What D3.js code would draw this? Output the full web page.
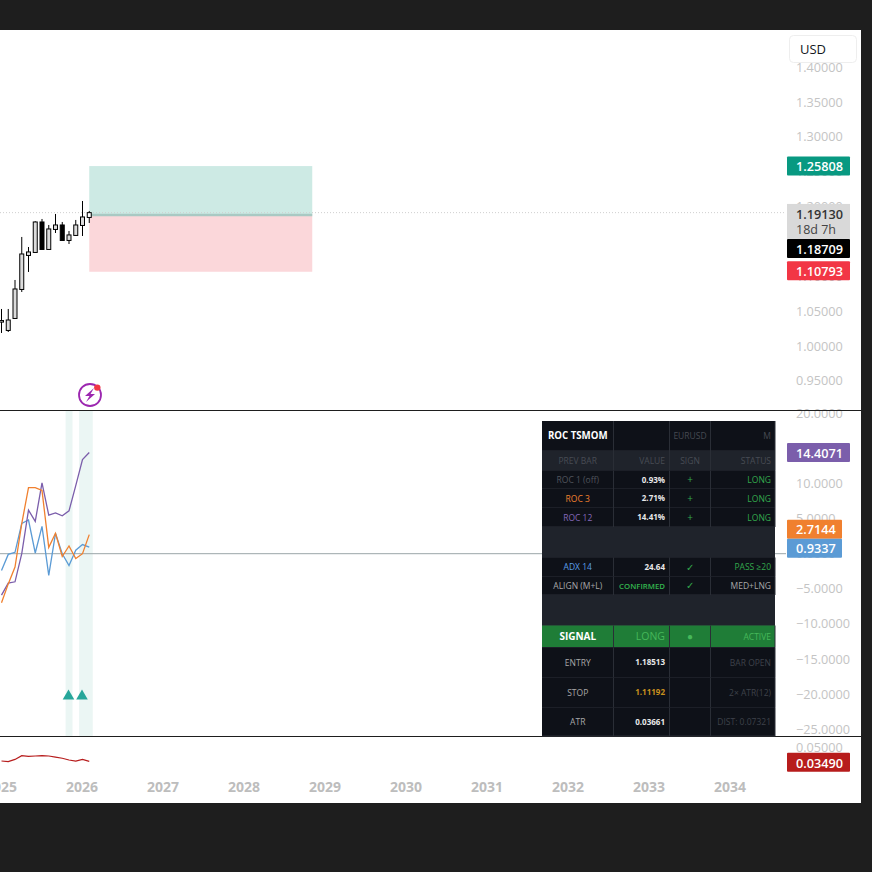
<!DOCTYPE html>
<html>
<head>
<meta charset="utf-8">
<script src="https://cdn.jsdelivr.net/npm/d3@7"></script>
<style>
html, body { margin: 0; padding: 0; background: #1e1e1e; }
svg { display: block; }
text { font-family: "Open Sans", sans-serif; }
</style>
</head>
<body>
<svg width="872" height="872"></svg>
<script>
// months as decimal years, Jan 2025 to Feb 2026
var months = [2025, 2025+1/12, 2025+2/12, 2025+3/12, 2025+4/12, 2025+5/12, 2025+6/12, 2025+7/12,
    2025+8/12, 2025+9/12, 2025+10/12, 2025+11/12, 2026, 2026+1/12];
var opens  = [1.0350, 1.0230, 1.0402, 1.0818, 1.1306, 1.1349, 1.1779, 1.1392, 1.1679, 1.1736, 1.1521, 1.1593, 1.1736, 1.1851];
var highs  = [1.0531, 1.0531, 1.0947, 1.1564, 1.1420, 1.1790, 1.1822, 1.1736, 1.1894, 1.1779, 1.1650, 1.1808, 1.2080, 1.1937];
var lows   = [1.0187, 1.0201, 1.0402, 1.0775, 1.1062, 1.1340, 1.1392, 1.1392, 1.1621, 1.1521, 1.1463, 1.1578, 1.1578, 1.1765];
var closes = [1.0365, 1.0373, 1.0818, 1.1320, 1.1349, 1.1779, 1.1392, 1.1679, 1.1736, 1.1521, 1.1593, 1.1736, 1.1851, 1.1913];

var roc1  = [-2.4, -0.1, 0.2, 4.3, 4.8, 0.1, 3.9, -3.1, 2.9, 0.0, -1.7, 0.5, 1.3, 0.9337];
var roc3  = [-7.0, -4.3, -1.9, 4.3, 9.4, 9.4, 9.0, 0.9, 2.9, -0.4, 1.1, -0.7, 0.0, 2.7144];
var roc12 = [-5.9, -4.2, -4.0, 0.0, 6.2, 4.6, 10.1, 5.5, 5.8, 5.4, 6.1, 9.7, 13.4, 14.4071];
var atr   = [0.0352, 0.0345, 0.0369, 0.0408, 0.0402, 0.0405, 0.0408, 0.0405, 0.0394, 0.0381, 0.0363, 0.0352, 0.0370, 0.0349];

var signalMonths = [2025+10/12, 2026, 2026+1/12];
var triangleMonths = [2025+10/12, 2026];

var priceTicks = [0.95, 1.00, 1.05, 1.10, 1.15, 1.20, 1.25, 1.30, 1.35, 1.40];
var rocTicks = [20, 15, 10, 5, 0, -5, -10, -15, -20, -25];
var yearTicks = [2025, 2026, 2027, 2028, 2029, 2030, 2031, 2032, 2033, 2034];

var entry = 1.18709, target = 1.25808, stop = 1.10793, last = 1.1913;

// table rows: label, value, sign, status
var tableRows = [
    ['ROC TSMOM', '', 'EURUSD', 'M'],
    ['PREV BAR', 'VALUE', 'SIGN', 'STATUS'],
    ['ROC 1 (off)', '0.93%', '+', 'LONG'],
    ['ROC 3', '2.71%', '+', 'LONG'],
    ['ROC 12', '14.41%', '+', 'LONG'],
    ['', '', '', ''],
    ['ADX 14', '24.64', '✓', 'PASS ≥20'],
    ['ALIGN (M+L)', 'CONFIRMED', '✓', 'MED+LNG'],
    ['', '', '', ''],
    ['SIGNAL', 'LONG', '●', 'ACTIVE'],
    ['ENTRY', '1.18513', '', 'BAR OPEN'],
    ['STOP', '1.11192', '', '2× ATR(12)'],
    ['ATR', '0.03661', '', 'DIST: 0.07321']
];
var rowEdges = [421, 451, 470.5, 489, 508, 527, 557.5, 576.5, 595, 625.5, 647.5, 677.5, 707.5, 736];
var colEdges = [542, 613.5, 669.5, 710.5, 775];
var rowFills = ['#0e1118', '#1f232b', '#0e1118', '#0e1118', '#0e1118', '#1f232b', '#0e1118', '#0e1118', '#1f232b', '#1f7d37', '#0e1118', '#0e1118', '#0e1118'];
var rowColors = [
    ['#ffffff', '', '#464a52', '#464a52'],
    ['#484c54', '#484c54', '#484c54', '#484c54'],
    ['#50545c', '#e8e8e8', '#33a84c', '#33a84c'],
    ['#f0802f', '#e8e8e8', '#33a84c', '#33a84c'],
    ['#8468b8', '#e8e8e8', '#33a84c', '#33a84c'],
    ['', '', '', ''],
    ['#5b9fe6', '#e8e8e8', '#33a84c', '#33a84c'],
    ['#a8a8a8', '#33b54e', '#33a84c', '#a8a8a8'],
    ['', '', '', ''],
    ['#ffffff', '#46b85a', '#46b85a', '#46b85a'],
    ['#a8a8a8', '#e8e8e8', '', '#3e424a'],
    ['#a8a8a8', '#c8901e', '', '#3e424a'],
    ['#a8a8a8', '#e8e8e8', '', '#3e424a']
];

var svg = d3.select('svg');

var x = d3.scaleLinear().domain([2025, 2035]).range([1.5, 811.5]);
var yPrice = d3.scaleLinear().domain([1.0, 1.35]).range([346, 102]);
var yRoc = d3.scaleLinear().domain([20, -25]).range([413.3, 729.2]);
var yAtr = d3.scaleLinear().domain([0.05, 0.0349]).range([747, 761.3]);

// white chart area
svg.append('rect').attr('x', 0).attr('y', 30).attr('width', 861).attr('height', 773).attr('fill', '#ffffff');

var defs = svg.append('defs');
defs.append('clipPath').attr('id', 'plot').append('rect')
    .attr('x', 0).attr('y', 31).attr('width', 786).attr('height', 772);

var plot = svg.append('g').attr('clip-path', 'url(#plot)');

// position box
plot.append('rect')
    .attr('x', x(2026+1/12)).attr('width', 223)
    .attr('y', yPrice(target)).attr('height', yPrice(entry) - yPrice(target))
    .attr('fill', '#cdeae4');
plot.append('rect')
    .attr('x', x(2026+1/12)).attr('width', 223)
    .attr('y', yPrice(entry)).attr('height', yPrice(stop) - yPrice(entry) + 1)
    .attr('fill', '#fbd7da');
plot.append('line')
    .attr('x1', x(2026+1/12)).attr('x2', x(2026+1/12) + 223)
    .attr('y1', yPrice(entry) - 0.5).attr('y2', yPrice(entry) - 0.5)
    .attr('stroke', '#a9c9c3').attr('stroke-width', 2.5);

// last price dotted line
plot.append('line')
    .attr('x1', 0).attr('x2', 786)
    .attr('y1', yPrice(last)).attr('y2', yPrice(last))
    .attr('stroke', '#cfcfcf').attr('stroke-dasharray', '1,2');

// candles
var candles = plot.selectAll('g.candle').data(months).enter().append('g').attr('class', 'candle');
candles.append('line')
    .attr('x1', function(d){ return x(d); })
    .attr('x2', function(d){ return x(d); })
    .attr('y1', function(d, i){ return yPrice(highs[i]); })
    .attr('y2', function(d, i){ return yPrice(lows[i]); })
    .attr('stroke', '#000000');
candles.append('rect')
    .attr('x', function(d){ return x(d) - 2; })
    .attr('width', 4)
    .attr('y', function(d, i){ return yPrice(Math.max(opens[i], closes[i])); })
    .attr('height', function(d, i){ return Math.abs(yPrice(opens[i]) - yPrice(closes[i])) + 0.5; })
    .attr('fill', function(d, i){
        if (i == months.length - 1) return '#ffffff';
        return closes[i] < opens[i] ? '#000000' : '#dcdcdc';
    })
    .attr('stroke', '#000000');

// alert icon
var icon = svg.append('g').attr('transform', 'translate(90,395)');
icon.append('circle').attr('r', 11).attr('fill', '#ffffff').attr('stroke', '#9c27b0').attr('stroke-width', 1.8);
icon.append('path').attr('d', 'M4,-7 L-5,1 L-0.5,1 L-4,7 L5,-1 L0.5,-1 Z').attr('fill', '#9c27b0');
icon.append('circle').attr('cx', 7.3).attr('cy', -7.4).attr('r', 3.2).attr('fill', '#f23645');

// signal bands
plot.selectAll('rect.band').data(signalMonths).enter().append('rect')
    .attr('class', 'band')
    .attr('x', function(d){ return x(d) - 3.4; })
    .attr('width', 6.9)
    .attr('y', 411).attr('height', 325)
    .attr('fill', '#ebf6f4');

// zero line
plot.append('line')
    .attr('x1', 0).attr('x2', 786)
    .attr('y1', yRoc(0)).attr('y2', yRoc(0))
    .attr('stroke', '#9aa5a8');

var rocLine = d3.line()
    .x(function(d, i){ return x(months[i]); })
    .y(function(d){ return yRoc(d); });

var rocSeries = [[roc1, '#5b9bd5'], [roc12, '#7b5eab'], [roc3, '#f0802f']];
plot.selectAll('path.roc').data(rocSeries).enter().append('path')
    .attr('class', 'roc')
    .attr('d', function(d){ return rocLine(d[0]); })
    .attr('fill', 'none')
    .attr('stroke', function(d){ return d[1]; })
    .attr('stroke-width', 1.3);

plot.selectAll('path.tri').data(triangleMonths).enter().append('path')
    .attr('class', 'tri')
    .attr('d', d3.symbol().type(d3.symbolTriangle).size(58))
    .attr('transform', function(d){ return 'translate(' + (x(d) - 0.5) + ',' + yRoc(-20.3) + ')'; })
    .attr('fill', '#26a69a');

// atr pane
plot.append('path')
    .attr('d', d3.line()
        .x(function(d, i){ return x(months[i]); })
        .y(function(d){ return yAtr(d); })(atr))
    .attr('fill', 'none')
    .attr('stroke', '#b71c1c')
    .attr('stroke-width', 1.2);

// right axes
function rightAxis(scale, ticks, fmt) {
    var g = svg.append('g').attr('transform', 'translate(787,0)')
        .call(d3.axisRight(scale).tickValues(ticks).tickFormat(fmt).tickSize(0).tickPadding(9));
    g.select('.domain').remove();
    g.selectAll('text').attr('fill', '#c4c4c4').attr('font-size', 12.7)
        .style('font-family', '"Open Sans", sans-serif');
    return g;
}
rightAxis(yPrice, priceTicks, d3.format('.5f'));
rightAxis(yRoc, rocTicks, function(d){ return d3.format('.4f')(d).replace('-', '−'); });
rightAxis(yAtr, [0.05], d3.format('.5f'));

// time axis
var timeAxis = svg.append('g').attr('transform', 'translate(0,782)')
    .call(d3.axisBottom(x).tickValues(yearTicks).tickFormat(d3.format('d')).tickSize(0).tickPadding(0));
timeAxis.select('.domain').remove();
timeAxis.selectAll('text').attr('fill', '#bdbdbd').attr('font-size', 14).attr('font-weight', 700)
    .attr('dx', -1)
    .style('font-family', '"Open Sans", sans-serif');

// pane separators
svg.selectAll('line.sep').data([410.5, 736.5]).enter().append('line')
    .attr('class', 'sep')
    .attr('x1', 0).attr('x2', 861)
    .attr('y1', function(d){ return d; }).attr('y2', function(d){ return d; })
    .attr('stroke', '#1e1e1e');

// USD button
svg.append('rect').attr('x', 789.5).attr('y', 35.5).attr('width', 67).attr('height', 27).attr('rx', 4)
    .attr('fill', '#ffffff').attr('stroke', '#eeeeee');
svg.append('text').attr('x', 800).attr('y', 54).attr('font-size', 13).attr('fill', '#131722').text('USD');

// value labels on the axis
function axisLabel(text, cy, fill, color, width) {
    svg.append('rect').attr('x', 787).attr('y', cy - 9.5).attr('width', width).attr('height', 19)
        .attr('rx', 1).attr('fill', fill);
    svg.append('text').attr('x', 796).attr('y', cy + 5.2).attr('font-size', 12.7).attr('font-weight', 600)
        .attr('fill', color).text(text);
}
axisLabel(d3.format('.5f')(target), yPrice(target), '#089981', '#ffffff', 63);
axisLabel(d3.format('.5f')(stop), yPrice(stop), '#f23645', '#ffffff', 63);

// last price and countdown block
var lastTop = yPrice(last) - 8.7;
svg.append('rect').attr('x', 787).attr('y', lastTop).attr('width', 63).attr('height', 35).attr('fill', '#d9d9d9');
svg.append('text').attr('x', 796).attr('y', lastTop + 15).attr('font-size', 12.7).attr('font-weight', 600)
    .attr('fill', '#333333').text(d3.format('.5f')(last));
svg.append('text').attr('x', 796).attr('y', lastTop + 30).attr('font-size', 12.5)
    .attr('fill', '#444444').text('18d 7h');
axisLabel(d3.format('.5f')(entry), lastTop + 44.5, '#000000', '#ffffff', 63);

axisLabel(d3.format('.4f')(roc12[13]), yRoc(roc12[13]), '#7b5eab', '#ffffff', 63);
axisLabel(d3.format('.4f')(roc3[13]), yRoc(roc3[13]) - 5.5, '#f0802f', '#ffffff', 55);
axisLabel(d3.format('.4f')(roc1[13]), yRoc(roc3[13]) + 13.5, '#5b9bd5', '#ffffff', 55);
axisLabel(d3.format('.5f')(atr[13]), yAtr(atr[13]) + 1, '#b71c1c', '#ffffff', 63);

// table
var table = svg.append('g');
var textX = [null, 665, null, 771];
var anchors = ['middle', 'end', 'middle', 'end'];
tableRows.forEach(function(row, r) {
    table.append('rect')
        .attr('x', colEdges[0]).attr('width', colEdges[4] - colEdges[0])
        .attr('y', rowEdges[r]).attr('height', rowEdges[r+1] - rowEdges[r])
        .attr('fill', rowFills[r]);
    row.forEach(function(cell, c) {
        var spacer = r == 5 || r == 8;
        if (!spacer) {
            table.append('line')
                .attr('x1', colEdges[c+1]).attr('x2', colEdges[c+1])
                .attr('y1', rowEdges[r]).attr('y2', rowEdges[r+1])
                .attr('stroke', '#2a2e36');
        }
        if (!cell) return;
        var size = 8.5;
        var weight = 400;
        if (r == 0 && c == 0) { size = 9.7; weight = 700; }
        if (r == 9 && c == 0) { size = 10; weight = 700; }
        if (r == 9 && c == 1) { size = 10.5; }
        if (c == 1 && r > 1 && r != 7 && r != 9) { weight = 700; size = 8; }
        if (r == 7 && c == 1) { weight = 600; size = 7.8; }
        if (c == 2 && r > 1) { size = 10; }
        table.append('text')
            .attr('x', textX[c] === null ? (colEdges[c] + colEdges[c+1]) / 2 : textX[c])
            .attr('y', (rowEdges[r] + rowEdges[r+1]) / 2 + size * 0.36)
            .attr('text-anchor', anchors[c])
            .attr('font-size', size)
            .attr('font-weight', weight)
            .attr('fill', rowColors[r][c])
            .text(cell);
    });
    table.append('line')
        .attr('x1', colEdges[0]).attr('x2', colEdges[4])
        .attr('y1', rowEdges[r+1]).attr('y2', rowEdges[r+1])
        .attr('stroke', '#2a2e36');
});
</script>
</body>
</html>
